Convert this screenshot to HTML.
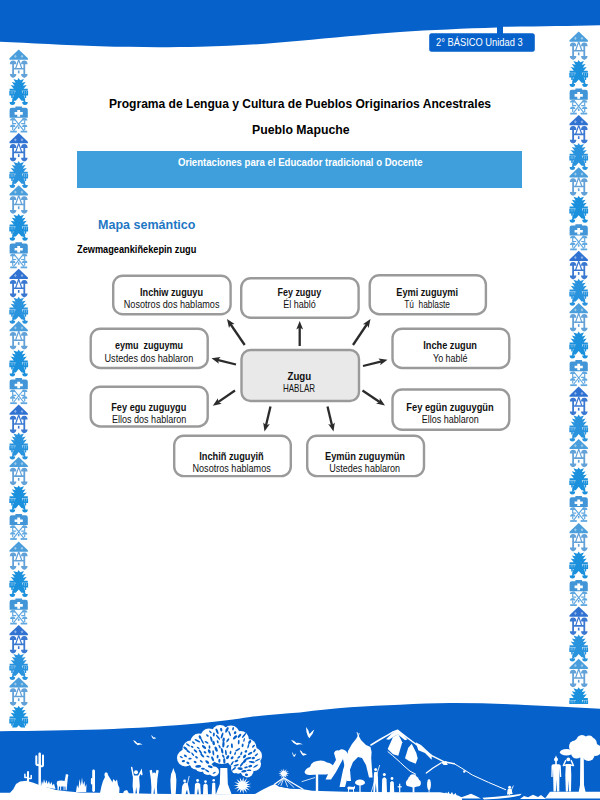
<!DOCTYPE html>
<html lang="es">
<head>
<meta charset="utf-8">
<title>Mapa semántico - Zugu</title>
<style>
  html,body{margin:0;padding:0;background:#fff;}
  body{width:600px;height:800px;position:relative;overflow:hidden;font-family:"Liberation Sans",sans-serif;}
  #page{position:absolute;left:0;top:0;width:600px;height:800px;display:block;}
  text{font-family:"Liberation Sans",sans-serif;}
  .b{font-weight:700;}
  .tx{position:absolute;margin:0;padding:0;white-space:nowrap;transform-origin:0 0;font-family:"Liberation Sans",sans-serif;z-index:2;}
  #banner{position:absolute;left:76.7px;top:151.3px;width:445.5px;height:36.6px;background:#3f9fdc;z-index:1;}
  #badge-txt{left:435.8px;top:36.4px;font-size:11.2px;line-height:13.44px;font-weight:400;color:#fff;transform:scaleX(0.8339);}
  #t1{left:109.2px;top:96.94px;font-size:12px;line-height:14.40px;font-weight:700;color:#000;transform:scaleX(1.0045);}
  #t2{left:251.7px;top:123.04px;font-size:12px;line-height:14.40px;font-weight:700;color:#000;transform:scaleX(1.0237);}
  #bn{left:177.5px;top:156.9px;font-size:10.4px;line-height:12.48px;font-weight:700;color:#fff;transform:scaleX(0.9225);}
  #h3{left:98.3px;top:218px;font-size:12.6px;line-height:15.12px;font-weight:700;color:#1f77c4;transform:scaleX(0.9941);}
  #sub{left:76.7px;top:243.7px;font-size:10.2px;line-height:12.24px;font-weight:700;color:#000;transform:scaleX(0.9045);}
  .dg{font-size:11.6px;fill:#111;}
</style>
</head>
<body>
<svg id="page" width="600" height="800" viewBox="0 0 600 800">
<defs>
<!--M0-->
  <g id="mT"><path d="M9.5,0L18.7,8.8V10.2H0.3V8.8Z"/><path d="M6.2,5.2L7.6,6.8L6.2,8.4L4.8,6.8ZM12.8,5.2L14.2,6.8L12.8,8.4L11.4,6.8Z" fill="#fff" fill-opacity=".45" stroke="none"/></g>
  <g id="mF">
    <path d="M0.6,3.9Q0.6,0.1 3.9,0.1Q7.2,0.1 7.2,3.9Z M11.8,3.9Q11.8,0.1 15.1,0.1Q18.4,0.1 18.4,3.9Z M0.6,13.8Q0.9,17 3.9,17.6Q6.9,17 7.2,13.8Z M11.8,13.8Q12.1,17 15.1,17.6Q18.1,17 18.4,13.8Z"/>
    <path d="M3,3H4.8V7.6H14.2V3H16V14.5H14.2V9.2H4.8V14.5H3Z"/>
    <path d="M9.5,-0.6L6.4,8.2M9.5,-0.6L12.6,8.2" fill="none" stroke-width="1.2" class="st"/>
    <rect x="8.7" y="10.2" width="1.6" height="2.8"/>
  </g>
  <g id="mTree">
    <path d="M9.5,0L10.9,2.2L14.8,0.9L12.6,4.8L16.4,3.9L13.6,7.8L17.6,7L14.4,10.8H18.6V12.8H12.6L16,21.2V22.8H12.4L9.5,19.4L6.6,22.8H3V21.2L6.4,12.8H0.4V10.8H4.6L1.4,7L5.4,7.8L2.6,3.9L6.4,4.8L4.2,0.9L8.1,2.2Z"/>
    <path d="M0.9,13V16.8H4.7V13M2.8,13V20M14.3,13V16.8H18.1V13M16.2,13V20" fill="none" stroke-width="1.6" class="st"/>
    <path d="M4.6,22.3L3,24.4M14.4,22.3L16,24.4" fill="none" stroke-width="1.6" class="st"/>
    <path d="M0.4,24A2.8,3 0 0 0 6,24Z M13,24A2.8,3 0 0 0 18.6,24Z"/>
  </g>
  <g id="mCross">
    <path fill-rule="evenodd" d="M6.2,0H12.8V1.3H16.4Q18.6,1.3 18.6,3.5V11.2H0.4V3.5Q0.4,1.3 2.6,1.3H6.2Z M8.1,3.6V5.6H5.4V8.2H8.1V10.2H10.9V8.2H13.6V5.6H10.9V3.6Z"/>
  </g>
  <g id="mX">
    <path d="M4.4,0.6L14.8,13.6M14.6,0.6L4.2,13.6" fill="none" stroke-width="1.2" class="st"/>
    <path d="M0.8,3.2A2.7,2.6 0 0 1 6.2,3.2Z M12.8,3.2A2.7,2.6 0 0 1 18.2,3.2Z M0.8,9.8A2.7,2.6 0 0 1 6.2,9.8Z M12.8,9.8A2.7,2.6 0 0 1 18.2,9.8Z"/>
    <path d="M3.5,3V6.4H7M15.5,3V6.4H12M3.5,9.6V12.6M15.5,9.6V12.6" fill="none" stroke-width="1.2" class="st"/>
    <rect x="1" y="13.4" width="6.6" height="1.8"/><rect x="11.4" y="13.4" width="6.6" height="1.8"/>
    <rect x="8.7" y="9.2" width="1.6" height="2.4"/>
  </g>
  <g id="tile">
    <use href="#mT" y="0.0" fill="#4a9edb" stroke="#4a9edb"/>
    <use href="#mF" y="10.8" fill="#63a2d8" stroke="#63a2d8"/>
    <use href="#mTree" y="28.5" fill="#1b90dc" stroke="#1b90dc"/>
    <use href="#mCross" y="57.0" fill="#4296d8" stroke="#4296d8"/>
    <use href="#mX" y="67.8" fill="#62a8e0" stroke="#62a8e0"/>
    <use href="#mT" y="83.5" fill="#2f72d2" stroke="#2f72d2"/>
    <use href="#mF" y="94.5" fill="#3a78d2" stroke="#3a78d2"/>
    <use href="#mTree" y="111.5" fill="#2a93dd" stroke="#2a93dd"/>
    <use href="#mT" y="135.8" fill="#4a9edb" stroke="#4a9edb"/>
    <use href="#mF" y="146.6" fill="#63a2d8" stroke="#63a2d8"/>
    <use href="#mTree" y="164.3" fill="#1b90dc" stroke="#1b90dc"/>
    <use href="#mCross" y="192.8" fill="#4296d8" stroke="#4296d8"/>
    <use href="#mX" y="203.6" fill="#62a8e0" stroke="#62a8e0"/>
    <use href="#mT" y="219.3" fill="#2f72d2" stroke="#2f72d2"/>
    <use href="#mF" y="230.3" fill="#3a78d2" stroke="#3a78d2"/>
    <use href="#mTree" y="247.3" fill="#2a93dd" stroke="#2a93dd"/>
    <use href="#mT" y="271.6" fill="#4a9edb" stroke="#4a9edb"/>
    <use href="#mF" y="282.4" fill="#63a2d8" stroke="#63a2d8"/>
    <use href="#mTree" y="300.1" fill="#1b90dc" stroke="#1b90dc"/>
    <use href="#mCross" y="328.6" fill="#4296d8" stroke="#4296d8"/>
    <use href="#mX" y="339.4" fill="#62a8e0" stroke="#62a8e0"/>
    <use href="#mT" y="355.1" fill="#2f72d2" stroke="#2f72d2"/>
    <use href="#mF" y="366.1" fill="#3a78d2" stroke="#3a78d2"/>
    <use href="#mTree" y="383.1" fill="#2a93dd" stroke="#2a93dd"/>
    <use href="#mT" y="407.4" fill="#4a9edb" stroke="#4a9edb"/>
    <use href="#mF" y="418.2" fill="#63a2d8" stroke="#63a2d8"/>
    <use href="#mTree" y="435.9" fill="#1b90dc" stroke="#1b90dc"/>
    <use href="#mCross" y="464.4" fill="#4296d8" stroke="#4296d8"/>
    <use href="#mX" y="475.2" fill="#62a8e0" stroke="#62a8e0"/>
  </g>
  <clipPath id="tclip"><rect x="-1" y="-1" width="21" height="491.8"/></clipPath>
  <clipPath id="lclip"><rect x="0" y="40" width="40" height="687.6"/></clipPath>
  <clipPath id="rclip"><rect x="560" y="20" width="40" height="684"/></clipPath>
<!--M1-->
</defs>

<!-- ===== header band ===== -->
<g id="header">
  <path d="M0,0H600V25.3C570,26 540,26.5 503,26.8L497,27.5C465,28.5 430,30 400,32C365,34.5 330,38 300,40.8C265,44 235,46 200,46.7C165,47.5 135,47.3 100,46.3C65,45 30,43 0,41.7Z" fill="#0661cb"/>
  <rect x="497" y="25" width="6" height="10" fill="#0661cb"/>
  <rect x="429.2" y="33.3" width="105.6" height="18.4" rx="2.5" ry="2.5" fill="#0661cb"/>
</g>


<!-- ===== diagram ===== -->
<g id="diagram">
  <g fill="#fff" stroke="#9a9a9a" stroke-width="2.4">
    <rect x="113.2" y="275.7" width="117.4" height="38.6" rx="9.5" ry="9.5"/>
    <rect x="241.2" y="278.2" width="117.4" height="39.6" rx="9.5" ry="9.5"/>
    <rect x="369.7" y="275.2" width="116.2" height="39" rx="9.5" ry="9.5"/>
    <rect x="90.7" y="328.7" width="117" height="39.3" rx="9.5" ry="9.5"/>
    <rect x="392.5" y="328.7" width="116.8" height="39.3" rx="9.5" ry="9.5"/>
    <rect x="90.7" y="386.7" width="117" height="39.8" rx="9.5" ry="9.5"/>
    <rect x="392.5" y="389.5" width="116.8" height="40.3" rx="9.5" ry="9.5"/>
    <rect x="174.2" y="435.7" width="116.6" height="40.4" rx="9.5" ry="9.5"/>
    <rect x="307.2" y="435.7" width="116.8" height="40.4" rx="9.5" ry="9.5"/>
    <rect x="241.5" y="350" width="117.5" height="51" rx="9" ry="9" fill="#e9e9e9"/>
  </g>
  <g id="arrows" fill="#2b2b2b" stroke="#2b2b2b" stroke-linecap="butt">
    <line x1="244.7" y1="345.0" x2="230.4" y2="324.0" stroke-width="2.3"/>
    <polygon stroke="none" points="227.0,319.0 234.6,324.1 230.7,324.4 229.0,327.9"/>
    <line x1="299.7" y1="346.0" x2="299.7" y2="327.0" stroke-width="2.3"/>
    <polygon stroke="none" points="299.7,321.0 303.1,329.5 299.7,327.5 296.3,329.5"/>
    <line x1="353.0" y1="345.0" x2="367.1" y2="324.0" stroke-width="2.3"/>
    <polygon stroke="none" points="370.5,319.0 368.6,327.9 366.9,324.4 362.9,324.2"/>
    <line x1="236.0" y1="364.5" x2="217.3" y2="359.8" stroke-width="2.3"/>
    <polygon stroke="none" points="211.5,358.3 220.6,357.1 217.8,359.9 218.9,363.7"/>
    <line x1="363.0" y1="366.0" x2="381.7" y2="361.3" stroke-width="2.3"/>
    <polygon stroke="none" points="387.5,359.8 380.1,365.2 381.2,361.4 378.4,358.6"/>
    <line x1="235.0" y1="390.5" x2="217.7" y2="402.4" stroke-width="2.3"/>
    <polygon stroke="none" points="212.8,405.8 217.9,398.2 218.2,402.1 221.7,403.8"/>
    <line x1="362.5" y1="390.5" x2="380.0" y2="402.2" stroke-width="2.3"/>
    <polygon stroke="none" points="385.0,405.5 376.0,403.6 379.6,401.9 379.8,398.0"/>
    <line x1="270.5" y1="406.5" x2="265.9" y2="425.7" stroke-width="2.3"/>
    <polygon stroke="none" points="264.5,431.5 263.2,422.4 266.0,425.2 269.8,424.0"/>
    <line x1="327.5" y1="406.5" x2="332.1" y2="425.7" stroke-width="2.3"/>
    <polygon stroke="none" points="333.5,431.5 328.2,424.0 332.0,425.2 334.8,422.4"/>
  </g>
  <g id="dtext" class="dg" style="white-space:pre">
    <text class="b" xml:space="preserve" x="140" y="295.5" textLength="63" lengthAdjust="spacingAndGlyphs">Inchiw zuguyu</text>
    <text xml:space="preserve" x="123.75" y="307.5" textLength="95.75" lengthAdjust="spacingAndGlyphs">Nosotros dos hablamos</text>
    <text class="b" xml:space="preserve" x="277.5" y="296.25" textLength="43.75" lengthAdjust="spacingAndGlyphs">Fey zuguy</text>
    <text xml:space="preserve" x="283.25" y="308" textLength="32.5" lengthAdjust="spacingAndGlyphs">Él habló</text>
    <text class="b" xml:space="preserve" x="396.25" y="295.5" textLength="61.75" lengthAdjust="spacingAndGlyphs">Eymi zuguymi</text>
    <text xml:space="preserve" x="404.25" y="307.5" textLength="45.75" lengthAdjust="spacingAndGlyphs">Tú  hablaste</text>
    <text class="b" xml:space="preserve" x="115" y="349.2" textLength="68" lengthAdjust="spacingAndGlyphs">eymu  zuguymu</text>
    <text xml:space="preserve" x="104.5" y="361.5" textLength="88.75" lengthAdjust="spacingAndGlyphs">Ustedes dos hablaron</text>
    <text class="b" xml:space="preserve" x="111.25" y="410.8" textLength="75" lengthAdjust="spacingAndGlyphs">Fey egu zuguygu</text>
    <text xml:space="preserve" x="112" y="422.8" textLength="74.25" lengthAdjust="spacingAndGlyphs">Ellos dos hablaron</text>
    <text class="b" xml:space="preserve" x="199.25" y="459.9" textLength="64.5" lengthAdjust="spacingAndGlyphs">Inchiñ zuguyiñ</text>
    <text xml:space="preserve" x="192.5" y="472" textLength="78.25" lengthAdjust="spacingAndGlyphs">Nosotros hablamos</text>
    <text class="b" xml:space="preserve" x="325" y="459.9" textLength="80" lengthAdjust="spacingAndGlyphs">Eymün zuguymün</text>
    <text xml:space="preserve" x="329.25" y="472" textLength="70.75" lengthAdjust="spacingAndGlyphs">Ustedes hablaron</text>
    <text class="b" xml:space="preserve" x="423.25" y="349.3" textLength="53.75" lengthAdjust="spacingAndGlyphs">Inche zugun</text>
    <text xml:space="preserve" x="433" y="361.5" textLength="34.5" lengthAdjust="spacingAndGlyphs">Yo hablé</text>
    <text class="b" xml:space="preserve" x="406.25" y="411" textLength="87.5" lengthAdjust="spacingAndGlyphs">Fey egün zuguygün</text>
    <text xml:space="preserve" x="421.75" y="422.8" textLength="57" lengthAdjust="spacingAndGlyphs">Ellos hablaron</text>
    <text class="b" xml:space="preserve" x="287.5" y="380" textLength="23.75" lengthAdjust="spacingAndGlyphs">Zugu</text>
    <text xml:space="preserve" x="283" y="392" textLength="32" lengthAdjust="spacingAndGlyphs">HABLAR</text>
  </g>
</g>

<!--B0--><g id="borders" stroke-width="0">
  <g clip-path="url(#lclip)">
    <g transform="translate(9.2,49.5)"><use href="#tile" clip-path="url(#tclip)"/></g>
    <g transform="translate(9.2,541.5)"><use href="#tile" clip-path="url(#tclip)"/></g>
  </g>
  <g clip-path="url(#rclip)">
    <g transform="translate(569.2,31.5)"><use href="#tile" clip-path="url(#tclip)"/></g>
    <g transform="translate(569.2,523)"><use href="#tile" clip-path="url(#tclip)"/></g>
  </g>
</g><!--B1-->

<!-- ===== footer ===== -->
<g id="footer">
  <path d="M0,731.2C35,730.8 70,730.4 100,729.5C135,728.3 170,726 200,723.3C220,721.3 235,719.2 250,717C268,714.8 284,713.6 300,712.5C318,710.2 334,708.7 350,707.3C368,706 384,705.2 400,704.7C418,703.8 434,703.2 450,703C475,702.9 500,703.8 525,705C550,706 575,707.4 600,708.8V800H0Z" fill="#0661cb"/>
  <!--S0--><g id="sil" fill="#fff" stroke="none">
    <path d="M0,800V792.7H10L13.3,789.3L16,784L20,781.5L26.7,780.7L33.3,782.7L40,785.3L46.7,787.3L56,790L66.7,791.3L80,792.5L120,793L150,793.8L200,794.3L240,794L255,794L262,790L270,786L275,784L279,786.5L290,788.5L303,789.2L312,790.8L345,791.8L400,792.3L440,792.3L447,793.5L458,795.5L462,797.5V800Z"/>
    <path d="M458,798.5L465,796L471,793.7L476,796L481,798.5Z"/>
    <path d="M482.3,797.7Q500,797 521.7,793.7L520,795.6Q505,799 484,799.4Z"/>
    <circle cx="509.6" cy="787.2" r="1.5"/><path d="M507,794.5L507.6,789.6Q509.6,787.6 511.6,789.6L512.6,794Z"/><path d="M513.4,785.6L509,795.5" stroke="#fff" stroke-width=".8"/>
    <path d="M520,799L524,796L528,797.3L533,794.8L538,797L541,795L546,799Z"/>
    <path d="M545,798.6L550,791.7H600V798.6Z"/>
    <g fill="none" stroke="#fff" stroke-linecap="round" stroke-linejoin="round"><path d="M28,772V781" stroke-width="2"/><path d="M24.9,774.3V777.6H28M31.2,775.6V778.6H28" stroke-width="1.5"/><path d="M39.7,753.8V785" stroke-width="2.5"/><path d="M36.3,756.2V763.4Q36.3,765 38,765H39.7M43,755.4V764.7Q43,766.3 41.4,766.3H39.7" stroke-width="2"/></g>
    <path d="M41,786.5L42,781L43,784L44,779L45.2,783.5L46.5,780L47.5,784L49,781L50,784.5L51.5,782L52.5,785.5L54,783.5L55.5,789Z"/>
    <path d="M57,781.5Q60,780 64.6,781L65.5,776.5L65.8,774.3L67.6,774.2L68.4,775.6L67.9,777L67.4,782L67,786L66.7,790.3H65.6L65.4,786.5H59L58.7,790.3H57.6L57.4,786Q56.3,784 57,781.5Z"/><path d="M60.2,786H61.1V790.3H60.2ZM63.6,786H64.5V790.3H63.6Z"/>
    <path d="M76,792L77,785L78.5,788L79.5,779L80.8,786L82,777.5L83,785L84.5,781L85,787L86.5,784L86.2,792Z"/>
    <rect x="92.2" y="769.5" width="2.8" height="22.5" rx="1.4"/><rect x="90.9" y="778" width="2" height="6.5" rx="1"/>
    <path d="M106,772.3Q108,772.3 108,775L109.5,777.5Q112,781 113.5,785L115.5,793H100L101.5,786Q103,780 105,777L104.4,775Q104.4,772.3 106,772.3Z"/>
    <path d="M111,793.5L112,783L113.5,779L115.5,781.5L117,779.5L118,785L119.5,788L119.2,793.5Z"/>
    <path d="M122.7,794.5L124,791L127,790L128.7,793V794.5Z"/>
    <circle cx="136" cy="772.2" r="2"/><path d="M133,775.5H139L139.8,786L138.8,794.7H137.2L136.2,787L135.2,794.7H133.6L132.6,786Z"/><path d="M133.4,776.2L131.7,767.6M138.6,776.2L141.3,771L141.8,774.6" fill="none" stroke="#fff" stroke-width="1.5" stroke-linecap="round"/>
    <path d="M133,740Q135.9,740.8 137.4,743.2Q139.8,742.4 142.7,744.8Q139.8,744.2 137.9,745.3Q134.9,744.2 133,740Z"/>
    <path d="M151,735Q152.6,735.6 153.4,737.4Q154.7,736.8 156.3,738.6Q154.7,738.2 153.6,739Q152.1,738.2 151,735Z"/>
    <circle cx="154.1" cy="774.3" r="1.9"/><path d="M149.6,770.5L151.8,769.8L153.2,776H155L156.5,769.8L158.7,770.5L157.4,779L156.9,787L157.3,794.7H155L154.2,787.5L153.4,794.7H151.2L151.4,787L150.8,779Z"/>
    <path d="M173.3,768L174.6,771.5L175.7,774L176.4,780L176.1,788L175.6,794.5H171.2L170.7,788L170.4,780L171.1,774L172.2,771.5Z"/>
    <circle cx="184.6" cy="781" r="1.4"/><path d="M181.5,794.7L182,787Q183,783 185.5,782.5Q188,783 188.5,787L190,794.7H188L187,789.5L185,794.7Z"/><path d="M189.2,776L185,794.5" stroke="#fff" stroke-width=".8"/>
    <circle cx="197.6" cy="780.5" r="1.4"/><path d="M194.5,794.7L195,784Q197.6,780.8 200.2,784L200.9,794.7H199L198,788L197,794.7Z"/>
    <circle cx="205.5" cy="781.6" r="1.3"/><path d="M203,794.7L203.4,785Q205.5,782 207.6,785L208,794.7Z"/>
    <circle cx="213.7" cy="780.2" r="1.3"/><path d="M211.7,794.7L212.2,783.6Q213.7,781.2 215.2,783.6L215.7,794.7Z"/>
    <g><circle cx="185.5" cy="758" r="8.5"/><circle cx="191" cy="749" r="8.5"/><circle cx="199" cy="742" r="8.5"/><circle cx="209" cy="737" r="8.5"/><circle cx="220" cy="733.5" r="8.5"/><circle cx="231" cy="734" r="8.5"/><circle cx="240.5" cy="739.5" r="8.5"/><circle cx="248" cy="747.5" r="8.5"/><circle cx="253.5" cy="756" r="8.5"/><circle cx="254" cy="764" r="7"/><circle cx="247" cy="771" r="6.5"/><circle cx="205" cy="754" r="12"/><circle cx="222" cy="750" r="14"/><circle cx="238" cy="756" r="12"/><circle cx="196" cy="763" r="6.5"/><circle cx="201" cy="766" r="6"/><circle cx="208" cy="769" r="6"/><circle cx="214" cy="771.5" r="5"/><circle cx="237" cy="768" r="6"/></g>
    <path d="M220.3,768H227.3L227.8,784L231.5,794H216L219.8,784Z"/>
    <g fill="#0661cb"><ellipse cx="223.3" cy="756.3" rx="1.9" ry="0.9" transform="rotate(-121 223.3 756.3)"/><ellipse cx="255.7" cy="766.1" rx="2.9" ry="0.8" transform="rotate(-31 255.7 766.1)"/><ellipse cx="229.7" cy="733.5" rx="3.0" ry="0.8" transform="rotate(-111 229.7 733.5)"/><ellipse cx="235.0" cy="737.4" rx="2.7" ry="1.3" transform="rotate(-45 235.0 737.4)"/><ellipse cx="207.4" cy="735.5" rx="1.6" ry="0.9" transform="rotate(-135 207.4 735.5)"/><ellipse cx="203.0" cy="768.7" rx="2.0" ry="1.0" transform="rotate(-172 203.0 768.7)"/><ellipse cx="207.9" cy="756.5" rx="1.6" ry="0.8" transform="rotate(-165 207.9 756.5)"/><ellipse cx="256.4" cy="754.8" rx="2.0" ry="0.8" transform="rotate(-39 256.4 754.8)"/><ellipse cx="211.3" cy="739.1" rx="2.9" ry="1.0" transform="rotate(-105 211.3 739.1)"/><ellipse cx="213.8" cy="734.6" rx="2.0" ry="1.0" transform="rotate(-84 213.8 734.6)"/><ellipse cx="217.7" cy="741.8" rx="1.7" ry="0.9" transform="rotate(-107 217.7 741.8)"/><ellipse cx="230.5" cy="752.5" rx="1.7" ry="0.9" transform="rotate(-80 230.5 752.5)"/><ellipse cx="244.0" cy="771.2" rx="2.8" ry="1.2" transform="rotate(-10 244.0 771.2)"/><ellipse cx="236.4" cy="760.9" rx="2.1" ry="1.1" transform="rotate(-26 236.4 760.9)"/><ellipse cx="200.4" cy="751.8" rx="2.7" ry="0.9" transform="rotate(-123 200.4 751.8)"/><ellipse cx="223.6" cy="739.8" rx="2.3" ry="1.2" transform="rotate(-80 223.6 739.8)"/><ellipse cx="251.7" cy="762.1" rx="3.1" ry="1.0" transform="rotate(9 251.7 762.1)"/><ellipse cx="222.1" cy="735.5" rx="3.1" ry="1.0" transform="rotate(-72 222.1 735.5)"/><ellipse cx="239.5" cy="735.8" rx="2.5" ry="1.1" transform="rotate(-50 239.5 735.8)"/><ellipse cx="212.6" cy="758.8" rx="2.6" ry="1.1" transform="rotate(-114 212.6 758.8)"/><ellipse cx="195.1" cy="762.0" rx="1.6" ry="1.0" transform="rotate(-153 195.1 762.0)"/><ellipse cx="248.3" cy="746.1" rx="2.5" ry="0.8" transform="rotate(-74 248.3 746.1)"/><ellipse cx="223.4" cy="744.3" rx="3.1" ry="1.2" transform="rotate(-86 223.4 744.3)"/><ellipse cx="231.9" cy="745.8" rx="2.5" ry="1.0" transform="rotate(-94 231.9 745.8)"/><ellipse cx="185.4" cy="755.9" rx="1.7" ry="1.1" transform="rotate(-150 185.4 755.9)"/><ellipse cx="253.5" cy="746.2" rx="1.9" ry="0.9" transform="rotate(-45 253.5 746.2)"/><ellipse cx="227.8" cy="740.3" rx="2.3" ry="0.9" transform="rotate(-54 227.8 740.3)"/><ellipse cx="197.4" cy="740.7" rx="3.2" ry="0.9" transform="rotate(-151 197.4 740.7)"/><ellipse cx="232.1" cy="757.8" rx="1.7" ry="1.2" transform="rotate(-45 232.1 757.8)"/><ellipse cx="222.1" cy="750.7" rx="2.8" ry="1.1" transform="rotate(-103 222.1 750.7)"/><ellipse cx="209.5" cy="747.0" rx="1.8" ry="0.9" transform="rotate(-98 209.5 747.0)"/><ellipse cx="188.4" cy="751.4" rx="2.3" ry="0.9" transform="rotate(-147 188.4 751.4)"/><ellipse cx="244.9" cy="760.8" rx="2.7" ry="1.3" transform="rotate(-56 244.9 760.8)"/><ellipse cx="190.0" cy="758.7" rx="1.7" ry="0.9" transform="rotate(-186 190.0 758.7)"/><ellipse cx="213.6" cy="743.0" rx="2.3" ry="1.3" transform="rotate(-103 213.6 743.0)"/><ellipse cx="241.3" cy="753.4" rx="1.9" ry="0.9" transform="rotate(-69 241.3 753.4)"/><ellipse cx="183.4" cy="761.1" rx="1.7" ry="1.1" transform="rotate(-189 183.4 761.1)"/><ellipse cx="233.9" cy="768.9" rx="2.6" ry="0.9" transform="rotate(-39 233.9 768.9)"/><ellipse cx="250.1" cy="753.4" rx="2.5" ry="1.1" transform="rotate(-30 250.1 753.4)"/><ellipse cx="210.4" cy="731.9" rx="1.8" ry="0.7" transform="rotate(-136 210.4 731.9)"/><ellipse cx="201.3" cy="761.4" rx="1.8" ry="0.8" transform="rotate(-141 201.3 761.4)"/><ellipse cx="257.8" cy="759.9" rx="3.2" ry="0.7" transform="rotate(-24 257.8 759.9)"/><ellipse cx="198.2" cy="747.8" rx="1.6" ry="0.7" transform="rotate(-148 198.2 747.8)"/><ellipse cx="207.1" cy="770.8" rx="2.5" ry="0.8" transform="rotate(-149 207.1 770.8)"/><ellipse cx="237.7" cy="749.8" rx="2.9" ry="0.8" transform="rotate(-31 237.7 749.8)"/><ellipse cx="216.1" cy="749.1" rx="2.8" ry="1.3" transform="rotate(-112 216.1 749.1)"/><ellipse cx="200.1" cy="737.3" rx="2.1" ry="1.2" transform="rotate(-120 200.1 737.3)"/><ellipse cx="249.1" cy="770.3" rx="2.2" ry="0.8" transform="rotate(3 249.1 770.3)"/><ellipse cx="192.1" cy="746.8" rx="1.5" ry="0.9" transform="rotate(-152 192.1 746.8)"/><ellipse cx="209.3" cy="751.3" rx="2.2" ry="1.3" transform="rotate(-113 209.3 751.3)"/><ellipse cx="235.1" cy="753.6" rx="1.6" ry="0.8" transform="rotate(-71 235.1 753.6)"/><ellipse cx="202.3" cy="741.3" rx="3.1" ry="0.8" transform="rotate(-119 202.3 741.3)"/><ellipse cx="240.1" cy="768.6" rx="2.7" ry="1.3" transform="rotate(7 240.1 768.6)"/><ellipse cx="238.7" cy="742.1" rx="2.3" ry="0.9" transform="rotate(-86 238.7 742.1)"/><ellipse cx="244.6" cy="756.4" rx="2.1" ry="1.2" transform="rotate(-49 244.6 756.4)"/><ellipse cx="221.2" cy="729.6" rx="1.9" ry="1.1" transform="rotate(-98 221.2 729.6)"/><ellipse cx="242.6" cy="745.4" rx="1.9" ry="1.0" transform="rotate(-84 242.6 745.4)"/><ellipse cx="217.1" cy="731.4" rx="3.1" ry="1.1" transform="rotate(-113 217.1 731.4)"/><ellipse cx="210.2" cy="766.7" rx="2.5" ry="1.2" transform="rotate(-163 210.2 766.7)"/><ellipse cx="217.6" cy="756.7" rx="1.9" ry="1.0" transform="rotate(-84 217.6 756.7)"/><ellipse cx="188.0" cy="744.9" rx="2.5" ry="0.8" transform="rotate(-143 188.0 744.9)"/><ellipse cx="214.2" cy="772.8" rx="1.7" ry="0.7" transform="rotate(156 214.2 772.8)"/><ellipse cx="254.5" cy="750.7" rx="1.9" ry="0.9" transform="rotate(-55 254.5 750.7)"/><ellipse cx="224.3" cy="760.8" rx="2.8" ry="1.2" transform="rotate(-92 224.3 760.8)"/><ellipse cx="225.9" cy="752.5" rx="2.8" ry="0.9" transform="rotate(-96 225.9 752.5)"/><ellipse cx="241.9" cy="764.1" rx="3.1" ry="0.9" transform="rotate(-53 241.9 764.1)"/><ellipse cx="245.9" cy="751.3" rx="1.5" ry="1.2" transform="rotate(-42 245.9 751.3)"/><ellipse cx="248.6" cy="758.3" rx="2.9" ry="1.1" transform="rotate(-16 248.6 758.3)"/><ellipse cx="192.7" cy="754.2" rx="2.1" ry="0.8" transform="rotate(-130 192.7 754.2)"/><ellipse cx="233.1" cy="728.7" rx="1.8" ry="0.9" transform="rotate(-80 233.1 728.7)"/><ellipse cx="244.1" cy="740.0" rx="2.0" ry="0.7" transform="rotate(-77 244.1 740.0)"/><ellipse cx="204.0" cy="747.0" rx="2.6" ry="1.2" transform="rotate(-139 204.0 747.0)"/><ellipse cx="202.3" cy="755.5" rx="2.6" ry="0.9" transform="rotate(-136 202.3 755.5)"/><ellipse cx="253.3" cy="758.1" rx="1.7" ry="1.2" transform="rotate(-13 253.3 758.1)"/><ellipse cx="207.2" cy="762.0" rx="2.3" ry="1.2" transform="rotate(-139 207.2 762.0)"/><ellipse cx="198.2" cy="766.4" rx="3.0" ry="1.3" transform="rotate(-182 198.2 766.4)"/><ellipse cx="236.2" cy="765.3" rx="2.8" ry="0.9" transform="rotate(-16 236.2 765.3)"/><ellipse cx="232.2" cy="763.2" rx="2.5" ry="0.8" transform="rotate(-55 232.2 763.2)"/><ellipse cx="226.9" cy="729.9" rx="3.1" ry="1.2" transform="rotate(-61 226.9 729.9)"/><ellipse cx="196.5" cy="757.3" rx="1.6" ry="1.0" transform="rotate(-139 196.5 757.3)"/><ellipse cx="213.3" cy="752.8" rx="2.7" ry="0.9" transform="rotate(-98 213.3 752.8)"/><ellipse cx="206.5" cy="742.3" rx="2.2" ry="0.9" transform="rotate(-150 206.5 742.3)"/><ellipse cx="181.3" cy="757.1" rx="1.7" ry="0.8" transform="rotate(-151 181.3 757.1)"/><ellipse cx="235.1" cy="732.7" rx="1.6" ry="1.2" transform="rotate(-60 235.1 732.7)"/><ellipse cx="187.9" cy="762.9" rx="1.6" ry="1.1" transform="rotate(-149 187.9 762.9)"/><ellipse cx="238.9" cy="757.2" rx="1.9" ry="0.9" transform="rotate(-42 238.9 757.2)"/><ellipse cx="227.6" cy="746.5" rx="1.7" ry="0.8" transform="rotate(-56 227.6 746.5)"/><ellipse cx="249.7" cy="742.0" rx="2.1" ry="1.2" transform="rotate(-54 249.7 742.0)"/><ellipse cx="219.6" cy="746.6" rx="2.0" ry="0.8" transform="rotate(-116 219.6 746.6)"/><ellipse cx="219.4" cy="760.7" rx="2.0" ry="1.1" transform="rotate(-88 219.4 760.7)"/><ellipse cx="246.5" cy="774.8" rx="1.6" ry="1.2" transform="rotate(5 246.5 774.8)"/><ellipse cx="218.0" cy="737.3" rx="3.2" ry="0.9" transform="rotate(-127 218.0 737.3)"/><ellipse cx="244.0" cy="735.5" rx="3.2" ry="0.9" transform="rotate(-51 244.0 735.5)"/><ellipse cx="250.2" cy="766.1" rx="2.0" ry="1.2" transform="rotate(-13 250.2 766.1)"/><ellipse cx="185.4" cy="748.4" rx="2.6" ry="1.2" transform="rotate(-141 185.4 748.4)"/><ellipse cx="195.5" cy="751.0" rx="2.3" ry="0.9" transform="rotate(-138 195.5 751.0)"/><ellipse cx="193.5" cy="742.6" rx="1.7" ry="0.9" transform="rotate(-141 193.5 742.6)"/><ellipse cx="227.7" cy="757.2" rx="2.2" ry="1.3" transform="rotate(-57 227.7 757.2)"/><ellipse cx="205.0" cy="752.3" rx="1.6" ry="1.0" transform="rotate(-146 205.0 752.3)"/><ellipse cx="246.0" cy="767.4" rx="1.9" ry="0.9" transform="rotate(-14 246.0 767.4)"/></g>
    <g fill="#0661cb"><path d="M228.5,777L236,773L247,777.5L236,778.5Z"/></g>
    <polygon points="233.5,785.5 238.4,784.7 234.3,782.0 239.1,783.2 236.5,779.1 240.4,782.0 239.7,777.4 242.1,781.5 243.4,777.0 243.8,781.7 247.0,778.1 245.3,782.5 249.8,780.5 246.3,783.9 251.3,783.7 246.7,785.5 251.3,787.3 246.3,787.1 249.8,790.5 245.3,788.5 247.0,792.9 243.8,789.3 243.4,794.0 242.1,789.5 239.7,793.6 240.4,789.0 236.5,791.9 239.1,787.8 234.3,789.0 238.4,786.3"/>
    <path d="M275,784L283.7,777.7L303,789.2L290,788.5L279,786.5Z" fill="#0661cb"/>
    <g fill="none" stroke="#fff" stroke-linecap="round"><path d="M274.5,784.3L283.7,777.7L303,789.2" stroke-width="1.3"/><path d="M283.7,778.5L281,785.5M284.5,779L287.5,786.5M285.5,779.5L294,787.5M282.5,779.5L278,785" stroke-width=".8"/></g>
    <polygon points="289.4,773.6 286.3,774.2 288.6,776.1 285.6,775.3 286.6,778.0 284.5,775.9 283.8,778.6 283.1,775.9 281.0,778.0 282.0,775.3 279.0,776.1 281.3,774.2 278.2,773.6 281.3,773.0 279.0,771.1 282.0,771.9 281.0,769.2 283.1,771.3 283.8,768.6 284.5,771.3 286.6,769.2 285.6,771.9 288.6,771.1 286.3,773.0"/>
    <path d="M306,727Q309,730 309.5,734Q312,731 314.3,729.5Q313,734 310.5,736.5L309.5,738.3L308,736.5Q306,733 306,727Z"/>
    <path d="M291,739.7Q294.6,740.5 296.4,742.9Q299.4,742.1 303,744.5Q299.4,743.9 297.0,745Q293.4,743.9 291,739.7Z"/>
    <path d="M299.7,750Q301.9,750.9 303.0,753.4Q304.8,752.6 307,755.1Q304.8,754.6 303.4,755.7Q301.2,754.6 299.7,750Z"/>
    <path d="M292,751.7Q293.5,753.5 293.8,755.5Q295,754 296,753.5Q295.5,756 294,757Q292.5,755.5 292,751.7Z"/>
    <path d="M304.5,772Q306,768 310,767Q311,762 317,761Q323,759.5 327,762.5Q332,763 334,767Q336,771 333,773.5L326,774.5H318L310,775Q305,775 304.5,772Z"/><rect x="315.8" y="774" width="2.4" height="18.5"/>
    <path d="M301.7,781.7L315,777.5" stroke="#fff" stroke-width=".8" fill="none"/>
    <path d="M334,753Q335,749.5 339,750.5Q342,748 346,751L348,754L350,770L351,781H347L345,768L343,759L336,772L331,779.5H325.5L330,770L336,760Z"/>
    <path d="M358.3,735L361,740L366,745L370.5,747L371.6,752L371.2,758L372,770L372.6,777.5H369L366,765L362,758L358,757L353,762L349,772L345,787H339.5L343,770L347,757L348,751L352,744L356,739Z"/>
    <path d="M357,732.2L358.3,736.5L359.2,733" stroke="#fff" stroke-width=".9" fill="none"/>
    <g fill="none" stroke="#fff" stroke-linejoin="round" stroke-linecap="round"><path d="M371,745L380,739.5L389,734.3L393,732L397.7,730.3L406.3,737L417,745L431.7,755.7L443.7,761.7L454.3,763.7" stroke-width="1.5"/><path d="M454.3,763.7L463,769L472.3,775L488.3,782.3L505.7,789.7" stroke-width="1"/><path d="M388,751.7Q398,760 404,766T415.7,774.3" stroke-width="1"/><path d="M426.3,773L433,768L441,763" stroke-width="1.3"/></g>
    <path d="M386,739.3L392,733.5L397.7,730L403,734.5L407.5,739.5L405,740.2L401,737L398,734.6L394,736.6L389,739.8Z"/>
    <path d="M387.7,749L393,737L398.3,734.3L402.3,742.3L398.3,755.7L393,754.3Z"/>
    <path d="M405,758.3L408.3,747.7L411.7,743.7L416.3,753L417.7,758.3L415.7,763.7L409,761Z"/>
    <path d="M415.7,742.3L421,745L431.7,755L431.7,759.7L425,753L418.3,750.3Z"/>
    <path d="M441,762.3L446.3,761L447.7,765H443.7Z"/>
    <circle cx="464.3" cy="771.5" r="1.2"/>
    <circle cx="375.7" cy="769.5" r="1.5"/><path d="M373.3,793L373.8,778L374,772.5Q375.7,771 377.6,772.5L378,778L378.3,793H376.6L375.8,783L375,793Z"/><path d="M379.7,765L371,793" stroke="#fff" stroke-width=".8"/>
    <circle cx="384.3" cy="774.5" r="1.5"/><path d="M381.8,793L382.2,779Q384.3,775.5 386.5,779L387,793Z"/>
    <circle cx="392" cy="778.5" r="1.4"/><path d="M389.8,793L390.2,782.5Q392,779.5 393.8,782.5L394.3,793Z"/>
    <rect x="399.1" y="783.7" width="1.2" height="8.8"/><rect x="397.7" y="786.2" width="4" height="1.2"/>
    <ellipse cx="360" cy="782.5" rx="5" ry="3"/><rect x="359.4" y="784" width="1.2" height="8.2"/>
    <path d="M347,788L348.5,786.5L353.5,787L355,785.7V788.5L354,789V791.9H353.2L353,789.5H349L348.8,791.9H348V789Z"/>
    <circle cx="413.3" cy="781.5" r="6"/><circle cx="409.5" cy="783" r="3.6"/><circle cx="417.3" cy="783" r="3.6"/><circle cx="413" cy="777.8" r="3.6"/><rect x="412.6" y="786" width="1.8" height="6.6"/>
    <ellipse cx="429" cy="784.5" rx="1.9" ry="5.6"/><rect x="428.6" y="788" width=".9" height="4.5"/>
    <path d="M445,794L446,792L447,794L448.5,791.5L450,794.5L452,792L453.5,795L455.5,793L457,796Z"/>
    <circle cx="556" cy="759.6" r="2"/><path d="M555,758L556,755.3L557,758Z"/><rect x="555.2" y="760.5" width="1.6" height="4.5"/><path d="M551.5,766Q551.5,764.3 553.5,764.3H558.8Q560.8,764.3 560.8,766L561.3,777H560L559.6,768L559.4,778.5L559.3,791.5H556.9L556.4,779.5L555.9,791.5H553.5L553.2,778.5L553,768L552.6,777H551.3Z"/>
    <circle cx="568.3" cy="759.4" r="1.9"/><path d="M565.8,764H570.8L571.3,775L571,791.5H568.9L568.4,780L567.9,791.5H565.8L565.3,775Z"/><path d="M566.3,765L563.3,765.6L565.6,760.6M570.3,765L573.5,765.6L571.2,760.6" fill="none" stroke="#fff" stroke-width="1.4" stroke-linecap="round" stroke-linejoin="round"/>
    <path d="M580.3,757H583.8L584,785L585.6,792H578.7L580,785Z"/>
    <g><circle cx="582.7" cy="747.5" r="10.5"/><circle cx="575" cy="746.5" r="6"/><circle cx="590" cy="744" r="7"/><circle cx="595.5" cy="750" r="6"/><circle cx="588.5" cy="755" r="6"/><circle cx="576.5" cy="753" r="5.5"/><circle cx="582" cy="740.5" r="5.5"/><circle cx="589" cy="739.5" r="4"/><ellipse cx="566.5" cy="752.2" rx="6.6" ry="3.2"/></g>
  </g><!--S1-->
</g>
</svg>

<header>
  <span id="badge-txt" class="tx">2° BÁSICO Unidad 3</span>
  <h1 id="t1" class="tx">Programa de Lengua y Cultura de Pueblos Originarios Ancestrales</h1>
  <h2 id="t2" class="tx">Pueblo Mapuche</h2>
  <div id="banner"></div>
  <p id="bn" class="tx">Orientaciones para el Educador tradicional o Docente</p>
</header>
<main>
  <h3 id="h3" class="tx">Mapa semántico</h3>
  <p id="sub" class="tx">Zewmageankiñekepin zugu</p>
</main>
</body>
</html>
